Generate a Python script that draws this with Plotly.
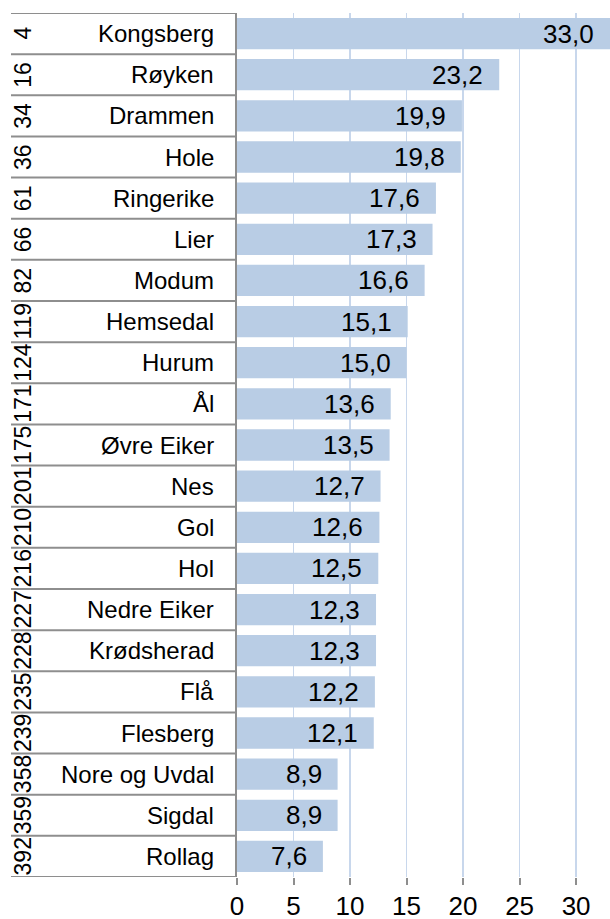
import plotly.graph_objects as go

ranks = [4, 16, 34, 36, 61, 66, 82, 119, 124, 171, 175, 201, 210, 216, 227, 228, 235, 239, 358, 359, 392]
names = ["Kongsberg", "Røyken", "Drammen", "Hole", "Ringerike", "Lier", "Modum", "Hemsedal",
         "Hurum", "Ål", "Øvre Eiker", "Nes", "Gol", "Hol", "Nedre Eiker", "Krødsherad", "Flå",
         "Flesberg", "Nore og Uvdal", "Sigdal", "Rollag"]
values = [33.0, 23.2, 19.9, 19.8, 17.6, 17.3, 16.6, 15.1, 15.0, 13.6, 13.5, 12.7, 12.6, 12.5,
          12.3, 12.3, 12.2, 12.1, 8.9, 8.9, 7.6]
x_ticks = [0, 5, 10, 15, 20, 25, 30]

FONT = "Liberation Sans, Arial, sans-serif"
BAR = "#b9cde5"
GRID = "#c8d7ec"
LINE = "#8e8e8e"

W, H = 610, 919

n = len(names)
idx = list(range(n))

fig = go.Figure(go.Bar(
    x=values, y=idx, orientation="h",
    marker=dict(color=BAR, line=dict(width=0)),
    width=0.76, hoverinfo="skip",
))

annotations = []
for i, (r, nm, v) in enumerate(zip(ranks, names, values)):
    annotations.append(dict(x=0, y=i, xref="paper", yref="y", text=nm, showarrow=False,
                            xanchor="right", yanchor="middle", xshift=-21,
                            font=dict(family=FONT, size=24, color="black")))
    annotations.append(dict(x=0, y=i, xref="paper", yref="y", text=str(r), showarrow=False,
                            xanchor="center", yanchor="middle", xshift=-214, textangle=-90,
                            font=dict(family=FONT, size=23, color="black")))
    annotations.append(dict(x=v, y=i, xref="x", yref="y", text=f"{v:.1f}".replace(".", ","),
                            showarrow=False, xanchor="right", yanchor="middle", xshift=-14,
                            font=dict(family=FONT, size=26, color="black")))

left_px = 237
plot_w = W - left_px
x_left_paper = (11 - left_px) / plot_w
shapes = []
for k in range(n + 1):
    shapes.append(dict(type="line", xref="paper", yref="y", x0=x_left_paper, x1=0,
                       y0=k - 0.5, y1=k - 0.5, line=dict(color=LINE, width=2), layer="above"))

fig.update_layout(
    width=W, height=H,
    margin=dict(l=left_px, r=0, t=13, b=42, autoexpand=False),
    plot_bgcolor="white", paper_bgcolor="white",
    showlegend=False,
    bargap=0.24,
    annotations=annotations,
    shapes=shapes,
    font=dict(family=FONT, size=24, color="black"),
    xaxis=dict(range=[0, 33], tickvals=x_ticks, ticktext=[str(t) for t in x_ticks],
               showgrid=True, gridcolor=GRID, gridwidth=1.5, zeroline=False,
               showline=False, ticks="outside", ticklen=7, tickwidth=2, tickcolor=LINE,
               ticklabelstandoff=-1, automargin=False,
               tickfont=dict(family=FONT, size=26, color="black"), fixedrange=True),
    yaxis=dict(range=[n - 0.5, -0.5], showticklabels=False, showgrid=False, zeroline=False,
               showline=True, linecolor=LINE, linewidth=2, ticks="", fixedrange=True,
               automargin=False),
)

fig.write_html(
    "out.html",
    config={"displayModeBar": False, "staticPlot": True},
    post_script="document.body.style.margin='0';document.body.style.overflow='hidden';",
)
